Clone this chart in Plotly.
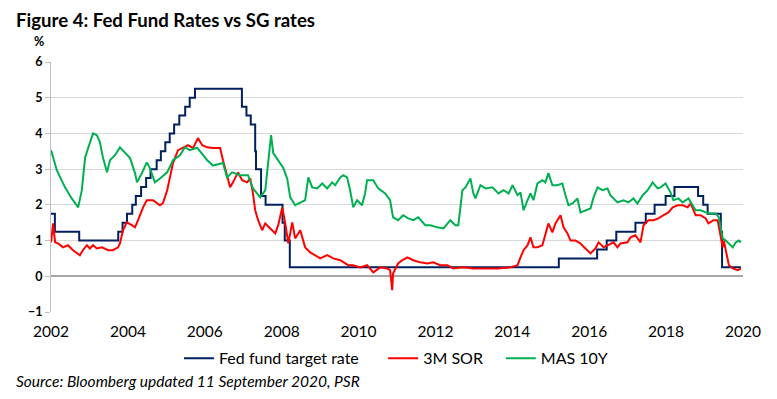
import plotly.graph_objects as go

# ---------------- data ----------------
fed_dates = ["2002-09-30","2002-11-06","2003-06-25","2004-06-30","2004-08-10","2004-09-21","2004-11-10","2004-12-14",
             "2005-02-02","2005-03-22","2005-05-03","2005-06-30","2005-08-09","2005-09-20","2005-11-01","2005-12-13",
             "2006-01-31","2006-03-28","2006-05-10","2006-06-29","2007-09-18","2007-10-31","2007-12-11","2008-01-22",
             "2008-01-30","2008-03-18","2008-04-30","2008-10-08","2008-10-29","2008-12-16","2015-12-16","2016-12-14",
             "2017-03-15","2017-06-14","2017-12-13","2018-03-21","2018-06-13","2018-09-26","2018-12-19","2019-07-31",
             "2019-09-18","2019-10-30","2020-03-03","2020-03-15","2020-09-10"]
fed_vals = [1.75,1.25,1.0,1.25,1.5,1.75,2.0,2.25,2.5,2.75,3.0,3.25,3.5,3.75,4.0,4.25,4.5,4.75,5.0,5.25,
            4.75,4.5,4.25,3.5,3.0,2.25,2.0,1.5,1.0,0.25,0.5,0.75,1.0,1.25,1.5,1.75,2.0,2.25,2.5,2.25,
            2.0,1.75,1.25,0.25,0.25]

sor_dates = ["2002-10-01","2002-10-20","2002-11-08","2002-12-06","2003-01-22","2003-03-10","2003-04-27","2003-07-01",
             "2003-07-30","2003-09-06","2003-10-05","2003-11-03","2003-12-10","2004-01-27","2004-03-25","2004-05-11",
             "2004-06-28","2004-07-16","2004-08-14","2004-09-20","2004-11-06","2004-12-06","2005-01-04","2005-02-21",
             "2005-03-28","2005-05-26","2005-07-31","2005-08-28","2005-10-08","2005-11-03","2005-12-02","2006-01-19",
             "2006-03-07","2006-04-24","2006-06-10","2006-07-27","2006-09-06","2006-10-23","2006-12-17","2007-02-23",
             "2007-03-22","2007-04-30","2007-05-29","2007-06-25","2007-08-12","2007-09-20","2007-11-06","2007-12-06",
             "2008-01-01","2008-01-22","2008-02-19","2008-03-28","2008-04-27","2008-06-13","2008-07-31","2008-08-28",
             "2008-10-05","2008-11-03","2008-12-02","2009-01-08","2009-02-05","2009-03-25","2009-05-11","2009-06-28",
             "2009-08-14","2009-10-01","2009-12-06","2010-02-02","2010-04-09","2010-06-24","2010-08-11","2010-10-17",
             "2010-12-20","2011-02-17","2011-04-24","2011-06-29","2011-07-27","2011-08-16","2011-08-24","2011-10-11",
             "2011-11-20","2012-01-08","2012-03-03","2012-05-08","2012-07-16","2012-09-09","2012-11-14","2013-01-22",
             "2013-03-18","2013-06-20","2013-09-25","2013-12-28","2014-05-11","2014-09-13","2014-11-19","2014-12-17",
             "2015-01-15","2015-02-22","2015-03-22","2015-04-19","2015-05-27","2015-07-13","2015-08-10","2015-09-08",
             "2015-10-16","2015-11-14","2016-01-01","2016-01-30","2016-03-07","2016-04-05","2016-05-22","2016-07-09",
             "2016-08-25","2016-10-12","2016-11-28","2016-12-28","2017-02-14","2017-04-02","2017-05-19","2017-06-25",
             "2017-07-24","2017-09-28","2017-10-27","2017-12-13","2018-01-30","2018-02-28","2018-04-16","2018-06-03",
             "2018-07-20","2018-09-06","2018-10-23","2018-12-02","2019-01-19","2019-03-06","2019-04-23","2019-05-22",
             "2019-07-08","2019-08-25","2019-10-12","2019-11-07","2019-12-25","2020-02-02","2020-03-02","2020-03-21",
             "2020-03-31","2020-04-19","2020-05-19","2020-06-25","2020-08-12","2020-09-10"]
sor_vals = [0.95,1.48,0.95,0.92,0.81,0.87,0.73,0.59,0.73,0.87,0.78,0.87,0.78,0.81,0.73,0.73,
            0.81,0.92,1.29,1.51,1.43,1.37,1.57,1.93,2.13,2.13,1.99,2.04,2.41,2.77,3.17,3.53,
            3.61,3.67,3.59,3.87,3.67,3.61,3.59,3.59,3.25,2.77,2.49,2.63,2.91,2.69,2.63,2.74,
            2.32,1.85,1.57,1.29,1.48,1.34,1.2,1.43,1.93,1.48,0.92,1.51,1.06,1.29,0.81,0.67,
            0.59,0.5,0.59,0.5,0.45,0.31,0.31,0.25,0.31,0.11,0.25,0.22,0.17,-0.39,0.08,0.36,
            0.45,0.53,0.45,0.39,0.36,0.39,0.31,0.31,0.22,0.25,0.22,0.22,0.22,0.25,0.31,0.53,
            0.73,0.87,1.09,0.81,0.81,0.87,1.15,1.48,1.23,1.48,1.71,1.37,1.2,1.0,1.0,0.92,
            0.78,0.64,0.78,0.95,0.81,0.87,0.95,0.81,0.92,0.95,1.09,1.15,0.95,1.43,1.57,1.57,
            1.62,1.71,1.79,1.93,1.99,1.99,1.93,2.04,1.71,1.71,1.62,1.48,1.57,1.57,1.09,0.81,
            1.0,0.73,0.31,0.22,0.17,0.22]

mas_dates = ["2002-10-01","2002-11-24","2003-02-10","2003-04-15","2003-06-15","2003-07-20","2003-08-20","2003-10-05",
             "2003-11-03","2003-12-10","2004-01-08","2004-02-05","2004-03-15","2004-04-12","2004-05-30","2004-07-16",
             "2004-09-01","2004-10-20","2004-12-06","2004-12-25","2005-02-10","2005-03-28","2005-04-27","2005-06-13",
             "2005-07-31","2005-10-08","2005-12-02","2006-02-06","2006-03-25","2006-05-11","2006-07-19","2006-10-23",
             "2006-12-17","2007-03-22","2007-04-30","2007-06-17","2007-09-01","2007-11-15","2008-01-01","2008-03-10",
             "2008-04-27","2008-05-25","2008-06-21","2008-07-12","2008-08-28","2008-10-15","2008-11-21","2008-12-20",
             "2009-02-05","2009-03-25","2009-05-11","2009-06-10","2009-07-17","2009-09-02","2009-10-20","2009-12-06",
             "2010-01-23","2010-02-20","2010-04-09","2010-05-08","2010-06-13","2010-07-12","2010-08-11","2010-09-16",
             "2010-11-02","2010-12-01","2010-12-20","2011-02-17","2011-04-05","2011-06-10","2011-07-27","2011-08-24",
             "2011-10-11","2011-11-28","2012-01-15","2012-03-03","2012-04-20","2012-06-25","2012-08-12","2012-10-18",
             "2012-12-15","2013-02-18","2013-04-07","2013-05-05","2013-06-13","2013-07-12","2013-08-28","2013-09-25",
             "2013-10-15","2013-12-01","2014-01-19","2014-03-25","2014-05-22","2014-07-09","2014-08-26","2014-10-02",
             "2014-11-19","2014-12-17","2015-01-15","2015-02-22","2015-03-22","2015-04-19","2015-05-27","2015-07-13",
             "2015-08-10","2015-09-08","2015-10-16","2015-12-02","2016-01-19","2016-02-17","2016-03-17","2016-04-24",
             "2016-06-10","2016-07-09","2016-08-25","2016-10-12","2016-11-10","2016-12-18","2017-02-03","2017-03-22",
             "2017-04-19","2017-06-25","2017-08-21","2017-10-08","2017-11-24","2018-01-01","2018-02-20","2018-04-08",
             "2018-05-25","2018-07-12","2018-08-08","2018-09-25","2018-11-11","2018-12-09","2019-01-26","2019-03-06",
             "2019-05-01","2019-06-10","2019-07-08","2019-08-25","2019-10-12","2019-11-28","2020-01-15","2020-02-13",
             "2020-03-21","2020-04-19","2020-05-19","2020-06-25","2020-07-23","2020-08-20","2020-09-10"]
mas_vals = [3.53,2.97,2.49,2.18,1.93,2.41,3.33,3.73,4.0,3.95,3.75,3.33,2.91,3.25,3.39,3.61,
            3.45,3.31,2.89,2.63,2.89,3.19,3.03,2.63,2.74,2.91,3.25,3.39,3.61,3.53,3.6,3.25,
            3.1,3.17,2.77,2.91,2.83,2.83,2.46,2.21,2.41,3.17,3.95,3.45,3.25,3.03,2.74,2.21,
            1.99,2.07,2.13,2.77,2.49,2.46,2.6,2.46,2.63,2.55,2.77,2.83,2.77,2.41,1.93,2.13,
            1.99,2.32,2.69,2.69,2.46,2.32,2.13,1.65,1.57,1.71,1.62,1.57,1.65,1.43,1.43,1.37,
            1.34,1.57,1.43,1.43,2.41,2.49,2.74,2.32,2.18,2.55,2.46,2.49,2.32,2.41,2.32,2.55,
            2.27,2.35,1.85,2.13,2.32,2.13,2.6,2.69,2.63,2.89,2.55,2.55,2.6,2.27,1.99,2.04,
            2.18,1.79,1.85,1.9,2.21,2.49,2.41,2.46,2.27,2.07,2.13,2.07,2.18,2.04,2.27,2.41,
            2.63,2.46,2.49,2.6,2.35,2.13,2.18,2.07,2.18,1.99,1.85,1.85,1.79,1.76,1.76,1.65,
            1.06,1.0,0.92,0.81,0.95,1.0,0.95]

tick_dates = ["2002-09-30","2004-09-30","2006-09-30","2008-09-30","2010-09-30",
              "2012-09-30","2014-09-30","2016-09-30","2018-09-30","2020-09-30"]
tick_labels = ["2002","2004","2006","2008","2010","2012","2014","2016","2018","2020"]
y_ticks = [-1, 0, 1, 2, 3, 4, 5, 6]

FONT = "Lato"
LEG_FONT = dict(family=FONT, size=16, color="#000000")

fig = go.Figure()
fig.add_trace(go.Scatter(x=fed_dates, y=fed_vals, name="Fed fund target rate", mode="lines",
                         legend="legend", line=dict(color="#002060", width=2, shape="hv")))
fig.add_trace(go.Scatter(x=sor_dates, y=sor_vals, name="3M SOR", mode="lines",
                         legend="legend2", line=dict(color="#FF0000", width=2)))
fig.add_trace(go.Scatter(x=mas_dates, y=mas_vals, name="MAS 10Y", mode="lines",
                         legend="legend3", line=dict(color="#00B050", width=2)))

leg_common = dict(orientation="h", y=-0.185, yanchor="middle", xanchor="left",
                  font=LEG_FONT, itemwidth=30, bgcolor="rgba(0,0,0,0)", borderwidth=0)

fig.update_layout(
    width=777, height=399,
    margin=dict(l=51, r=34, t=62, b=87, autoexpand=False),
    paper_bgcolor="white", plot_bgcolor="white",
    font=dict(family=FONT, color="#000000"),
    showlegend=True,
    legend=dict(x=0.185, **leg_common),
    legend2=dict(x=0.480, **leg_common),
    legend3=dict(x=0.650, **leg_common),
    xaxis=dict(type="date", range=["2002-09-30", "2020-09-30"], automargin=False,
               tickmode="array", tickvals=tick_dates, ticktext=tick_labels,
               showgrid=False, showline=False, zeroline=False, ticks="",
               ticklabelstandoff=8,
               tickfont=dict(family=FONT, size=15.5, color="#000000")),
    yaxis=dict(range=[-1, 6], tickmode="array", tickvals=y_ticks, automargin=False,
               showgrid=True, gridcolor="#D9D9D9", gridwidth=1,
               zeroline=True, zerolinecolor="#A6A6A6", zerolinewidth=2,
               showline=True, linecolor="#BFBFBF", linewidth=1,
               ticks="outside", ticklen=5, tickcolor="#BFBFBF",
               tickfont=dict(family=FONT, size=12.5, color="#000000", weight="bold")),
    annotations=[
        dict(text="Figure 4: Fed Fund Rates vs SG rates", xref="paper", yref="paper",
             x=-0.054, y=1.168, xanchor="left", yanchor="middle", showarrow=False,
             font=dict(family=FONT, size=18.6, color="#000000", weight="bold")),
        dict(text="%", xref="paper", yref="paper", x=-0.018, y=1.08, xanchor="center", yanchor="middle",
             showarrow=False, font=dict(family=FONT, size=12.5, color="#000000", weight="bold")),
        dict(text="<i>Source: Bloomberg updated 11 September 2020, PSR</i>", xref="paper", yref="paper",
             x=-0.054, y=-0.276, xanchor="left", yanchor="middle", showarrow=False,
             font=dict(family=FONT, size=15.5, color="#000000")),
    ],
)

fig.write_html("out.html", config={"displayModeBar": False},
               post_script="document.body.style.margin='0px';document.body.style.padding='0px';")
